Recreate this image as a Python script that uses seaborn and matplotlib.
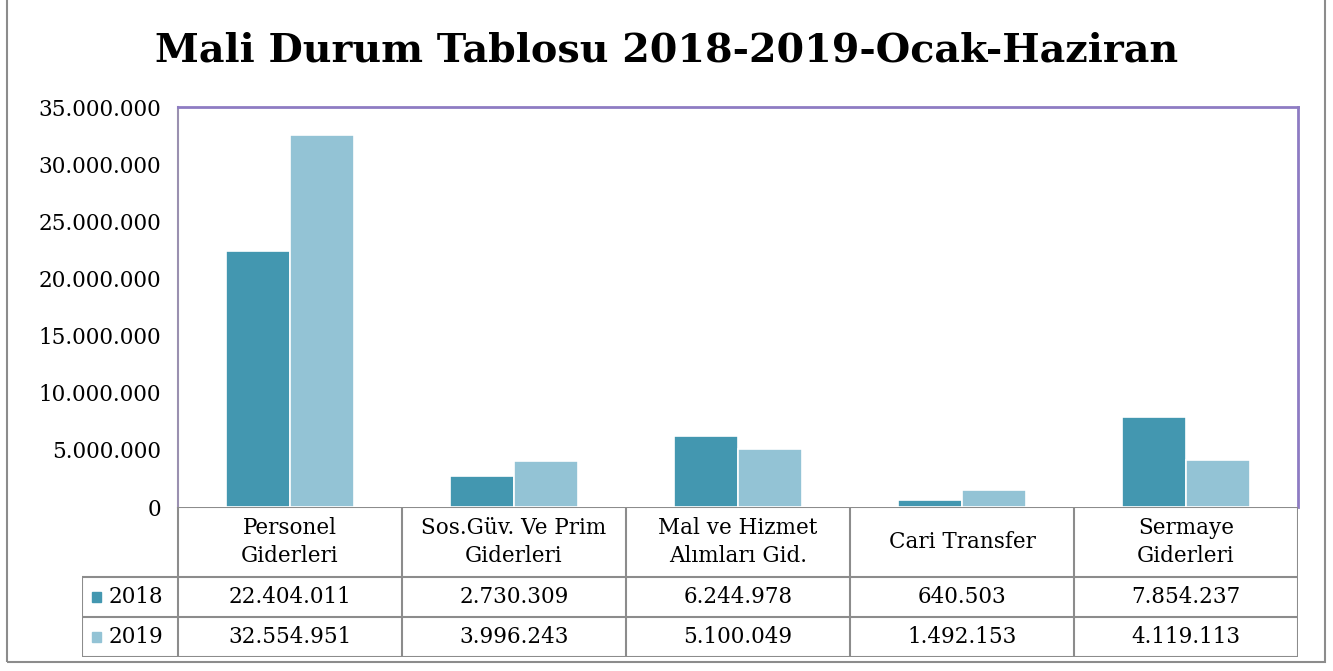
import matplotlib
matplotlib.use("Agg")
import matplotlib.pyplot as plt
import seaborn as sns
import pandas as pd
from matplotlib.patches import Rectangle

categories = ["Personel\nGiderleri", "Sos.Güv. Ve Prim\nGiderleri", "Mal ve Hizmet\nAlımları Gid.",
              "Cari Transfer", "Sermaye\nGiderleri"]
years = ["2018", "2019"]
values_2018 = [22404011, 2730309, 6244978, 640503, 7854237]
values_2019 = [32554951, 3996243, 5100049, 1492153, 4119113]
colors = ["#4397B0", "#93C3D5"]
y_ticks = [0, 5000000, 10000000, 15000000, 20000000, 25000000, 30000000, 35000000]
title = "Mali Durum Tablosu 2018-2019-Ocak-Haziran"


def fmt(v):
    return f"{v:,}".replace(",", ".")


def main():
    sns.set_style("white")
    plt.rcParams["font.family"] = ["DejaVu Serif"]
    plt.rcParams["text.color"] = "black"
    plt.rcParams["ytick.color"] = "black"

    df = pd.DataFrame({
        "category": categories * 2,
        "year": [years[0]] * 5 + [years[1]] * 5,
        "value": values_2018 + values_2019,
    })

    fig = plt.figure(figsize=(13.33, 6.71), dpi=100)
    ax = fig.add_axes([178 / 1333, 164 / 671, 1120 / 1333, 400 / 671])

    sns.barplot(data=df, x="category", y="value", hue="year", palette=colors, saturation=1,
                width=0.57, edgecolor="white", linewidth=1.2, legend=False, ax=ax)

    ax.set_xlim(-0.5, 4.5)
    ax.set_ylim(0, 35000000)
    ax.set_yticks(y_ticks)
    ax.set_yticklabels([fmt(t) for t in y_ticks], fontsize=15.5)
    ax.set_xticks([])
    ax.set_xlabel("")
    ax.set_ylabel("")
    ax.tick_params(axis="y", length=0, pad=12)
    for side in ["top", "right"]:
        ax.spines[side].set_color("#8E7CC3")
        ax.spines[side].set_linewidth(2)
    ax.spines["left"].set_color("#9A90B0")
    ax.spines["left"].set_linewidth(1.5)
    ax.spines["bottom"].set_visible(False)

    # data table under the chart
    leg_w = 96 / 224
    tax = fig.add_axes([82 / 1333, 14 / 671, 1216 / 1333, 150 / 671])
    tax.set_xlim(-0.5 - leg_w, 4.5)
    tax.set_ylim(150, 0)
    tax.axis("off")
    line_kw = dict(color="#8C8C8C", linewidth=1.5)
    tax.plot([-0.5, 4.5], [0, 0], **line_kw)
    for yy in [70, 110, 150]:
        tax.plot([-0.5 - leg_w, 4.5], [yy, yy], **line_kw)
    tax.plot([-0.5 - leg_w, -0.5 - leg_w], [70, 150], **line_kw)
    for i in range(6):
        tax.plot([i - 0.5, i - 0.5], [0, 150], **line_kw)

    for i, cat in enumerate(categories):
        tax.text(i, 35, cat, ha="center", va="center", fontsize=15.5, linespacing=1.35)
        tax.text(i, 90, fmt(values_2018[i]), ha="center", va="center", fontsize=15.5)
        tax.text(i, 130, fmt(values_2019[i]), ha="center", va="center", fontsize=15.5)

    for j, (yr, c) in enumerate(zip(years, colors)):
        yc = 90 + 40 * j
        tax.add_patch(Rectangle((-0.5 - leg_w + 0.045, yc - 5), 0.04, 10, color=c))
        tax.text(-0.5 - leg_w + 0.12, yc, yr, ha="left", va="center", fontsize=15.5)

    fig.text(0.5, 1 - 50 / 671, title, ha="center", va="center",
             fontsize=28.5, fontweight="bold")

    # outer chart border
    fig.patches.append(Rectangle((7 / 1333, 9 / 671), 1318 / 1333, 0.99, transform=fig.transFigure,
                                 fill=False, edgecolor="#8C8C8C", linewidth=1.5))

    fig.savefig("out.png", dpi=100)


if __name__ == "__main__":
    main()
